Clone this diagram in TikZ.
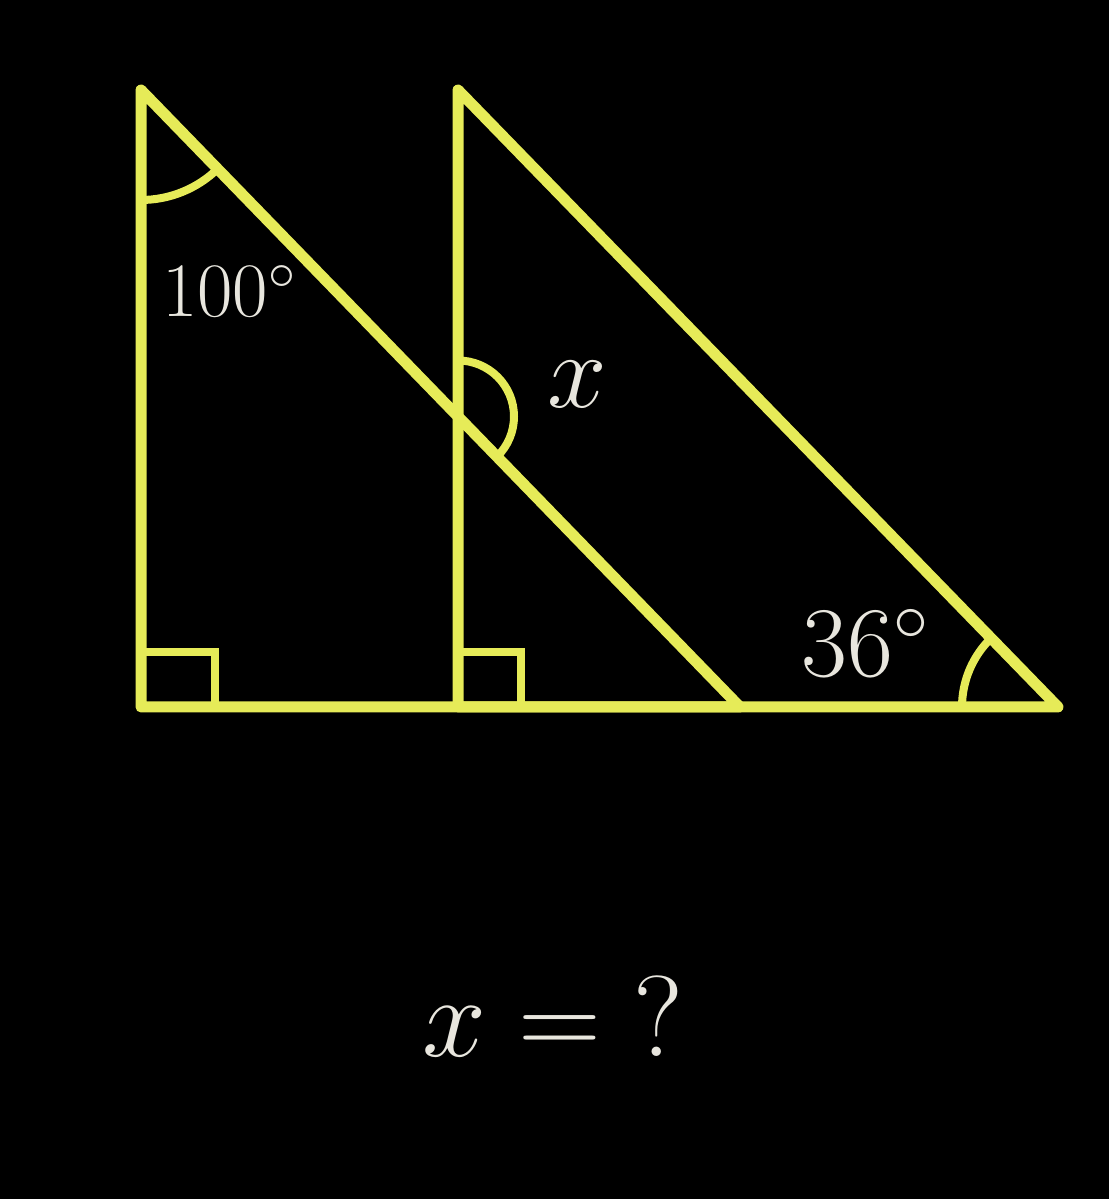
\RequirePackage{fix-cm}
\documentclass[tikz,border=0pt]{standalone}
\definecolor{lineyel}{RGB}{230,235,88}
\definecolor{txtgray}{RGB}{232,230,222}
\begin{document}
\begin{tikzpicture}[x=1pt,y=1pt,
  side/.style={draw=lineyel,line width=11pt,line join=round,line cap=round},
  anglemark/.style={draw=lineyel,line width=8pt},
  lbl/.style={text=txtgray,inner sep=0pt,anchor=base}]
\fill[black] (0,0) rectangle (1109,1199);
\useasboundingbox (0,0) rectangle (1109,1199);
% vertices
\coordinate (A) at (141,1109);
\coordinate (B) at (141,492);
\coordinate (C) at (740,492);
\coordinate (D) at (458,1109);
\coordinate (E) at (458,492);
\coordinate (F) at (1058,492);
\coordinate (P) at (458,782.5);
% right-angle marks
\draw[anglemark] (141,547) -- (215,547) -- (215,492);
\draw[anglemark] (458,547) -- (521,547) -- (521,492);
% angle arcs
\draw[anglemark] ([shift={(270:110)}]A) arc[start angle=270,end angle=314.15,radius=110];
\draw[anglemark] ([shift={(90:56)}]P) arc[start angle=90,end angle=-45.85,radius=56];
\draw[anglemark] ([shift={(180:96)}]F) arc[start angle=180,end angle=134.2,radius=96];
% triangles
\draw[side] (A) -- (B) -- (C) -- cycle;
\draw[side] (D) -- (E) -- (F) -- cycle;
% labels
\node[lbl,font=\fontsize{77}{80}\selectfont] (a100) at (229,882) {100$^\circ$};
\node[lbl,font=\fontsize{107}{110}\selectfont] (ax) at (577,791) {$x$};
\node[lbl,font=\fontsize{100}{104}\selectfont] (a36) at (865,522) {36$^\circ$};
\node[lbl,font=\fontsize{115}{120}\selectfont] (q) at (553,142) {$x = {?}$};
\end{tikzpicture}
\end{document}
